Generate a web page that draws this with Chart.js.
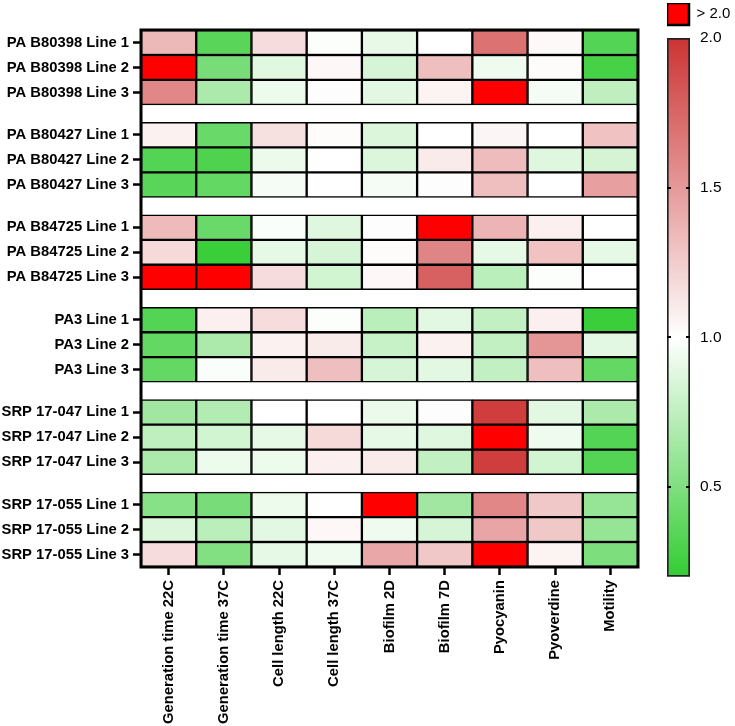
<!DOCTYPE html>
<html>
<head>
<meta charset="utf-8">
<script src="https://cdn.jsdelivr.net/npm/chart.js@4.4.0/dist/chart.umd.min.js"></script>
<style>
  html, body { margin: 0; padding: 0; background: #fff; }
  #wrap { position: relative; width: 735px; height: 726px; }
  #main { position: absolute; left: 0; top: 0; width: 735px; height: 726px; }
  #bar { position: absolute; left: 650px; top: 0; width: 85px; height: 596px; }
</style>
</head>
<body>
<div id="wrap">
  <div id="main"><canvas id="heat"></canvas></div>
  <div id="bar"><canvas id="scale"></canvas></div>
</div>
<script>
'use strict';

// columns of the heatmap
const columns = ['Generation time 22C', 'Generation time 37C', 'Cell length 22C', 'Cell length 37C',
  'Biofilm 2D', 'Biofilm 7D', 'Pyocyanin', 'Pyoverdine', 'Motility'];
const strains = ['PA B80398', 'PA B80427', 'PA B84725', 'PA3', 'SRP 17-047', 'SRP 17-055'];
const lines = ['Line 1', 'Line 2', 'Line 3'];

// fold change per line, one row per line, in column order (values above 2.0 show as bright red)
const paB80398 = [
  [1.35, 0.35, 1.17, 0.99, 0.91, 1.00, 1.69, 1.03, 0.33],
  [2.20, 0.47, 0.88, 1.04, 0.84, 1.32, 0.94, 1.02, 0.28],
  [1.59, 0.67, 0.93, 1.01, 0.89, 1.06, 2.20, 0.96, 0.75]
];
const paB80427 = [
  [1.07, 0.41, 1.15, 1.02, 0.86, 1.00, 1.05, 1.00, 1.30],
  [0.33, 0.31, 0.92, 1.00, 0.86, 1.10, 1.33, 0.87, 0.83],
  [0.35, 0.39, 0.96, 1.00, 0.96, 1.01, 1.32, 1.00, 1.47]
];
const paB84725 = [
  [1.34, 0.41, 0.98, 0.87, 1.01, 2.20, 1.37, 1.08, 1.00],
  [1.18, 0.23, 0.90, 0.84, 1.02, 1.60, 0.90, 1.30, 0.90],
  [2.20, 2.20, 1.17, 0.82, 1.04, 1.78, 0.73, 0.99, 1.00]
];
const pa3 = [
  [0.33, 1.08, 1.17, 0.99, 0.73, 0.89, 0.76, 1.08, 0.23],
  [0.39, 0.67, 1.07, 1.10, 0.78, 1.07, 0.76, 1.52, 0.89],
  [0.39, 0.98, 1.10, 1.32, 0.84, 0.89, 0.76, 1.32, 0.39]
];
const srp17047 = [
  [0.63, 0.70, 1.00, 1.00, 0.92, 1.01, 1.95, 0.89, 0.67],
  [0.75, 0.82, 0.90, 1.18, 0.90, 0.87, 2.20, 0.94, 0.33],
  [0.67, 0.93, 0.93, 1.08, 1.10, 0.76, 1.95, 0.82, 0.33]
];
const srp17055 = [
  [0.53, 0.47, 0.93, 1.00, 2.20, 0.63, 1.59, 1.27, 0.59],
  [0.86, 0.73, 0.89, 1.04, 0.94, 0.84, 1.44, 1.27, 0.59],
  [1.17, 0.51, 0.90, 0.94, 1.43, 1.27, 2.20, 1.06, 0.49]
];
const strainValues = [paB80398, paB80427, paB84725, pa3, srp17047, srp17055];

// colour scale
const scaleMin = 0.2, scaleMid = 1.0, scaleMax = 2.0;
const scaleTicks = [0.5, 1.0, 1.5, 2.0];
const lowColor = [51, 204, 51];
const highColor = [204, 51, 51];
const overColor = '#ff0000';
const groupGap = 0.7;   // blank space between strains, in row heights

const font = '"Liberation Sans", Arial, Helvetica, sans-serif';
Chart.defaults.font.family = font;
Chart.defaults.color = '#000';

function mix(c, t){
  const m = c.map(v => Math.round(255 + (v - 255) * t));
  return 'rgb(' + m.join(',') + ')';
}
function cellColor(v){
  if (v > scaleMax) return overColor;
  if (v >= scaleMid) return mix(highColor, (v - scaleMid) / (scaleMax - scaleMid));
  return mix(lowColor, Math.min(1, (scaleMid - v) / (scaleMid - scaleMin)));
}

// one entry per heatmap row
const rows = [];
strainValues.forEach((group, g) => {
  group.forEach((vals, i) => {
    rows.push({ label: strains[g] + ' ' + lines[i], top: g * (3 + groupGap) + i, values: vals });
  });
});
const yMax = strains.length * 3 + (strains.length - 1) * groupGap;

// thick frame round the plot area
const frame = {
  id: 'frame',
  afterDatasetsDraw(chart){
    const {ctx, chartArea: a} = chart;
    ctx.save();
    ctx.lineWidth = 3;
    ctx.strokeStyle = '#000';
    ctx.strokeRect(a.left, a.top, a.right - a.left, a.bottom - a.top);
    ctx.restore();
  }
};

new Chart(document.getElementById('heat'), {
  type: 'bar',
  data: {
    labels: columns,
    datasets: rows.map(r => ({
      label: r.label,
      data: r.values.map(() => [r.top, r.top + 1]),
      backgroundColor: r.values.map(cellColor),
      borderColor: '#000',
      borderWidth: 1.5,
      borderSkipped: false,
      grouped: false,
      categoryPercentage: 1,
      barPercentage: 1
    }))
  },
  options: {
    responsive: true,
    maintainAspectRatio: false,
    animation: false,
    layout: { padding: { top: 30, right: 97, left: 0, bottom: 0 } },
    plugins: { legend: { display: false }, tooltip: { enabled: false } },
    scales: {
      x: {
        offset: true,
        grid: { offset: false, drawOnChartArea: false, tickLength: 8, tickWidth: 2.5, tickColor: '#000' },
        border: { display: false },
        ticks: { minRotation: 90, maxRotation: 90, padding: 5, autoSkip: false,
          font: { size: 14.8, weight: 'bold' } },
        afterFit(s){ s.height = 159; }
      },
      y: {
        type: 'linear',
        reverse: true,
        min: 0,
        max: yMax,
        afterBuildTicks(s){ s.ticks = rows.map(r => ({ value: r.top + 0.5 })); },
        grid: { drawOnChartArea: false, tickLength: 8, tickWidth: 2.5, tickColor: '#000' },
        border: { display: false },
        ticks: { autoSkip: false, padding: 4, font: { size: 14.8, weight: 'bold' },
          callback: (v, i) => rows[i] ? rows[i].label : '' },
        afterFit(s){ s.width = 141; }
      }
    }
  },
  plugins: [frame]
});

// small marks on both edges of the colour bar
const barTicks = {
  id: 'barTicks',
  afterDatasetsDraw(chart){
    const {ctx, chartArea: a} = chart;
    const ys = chart.scales.y;
    ctx.save();
    ctx.strokeStyle = '#000';
    ctx.lineWidth = 2;
    scaleTicks.slice(0, -1).forEach(t => {
      const y = Math.round(ys.getPixelForValue(t));
      ctx.beginPath();
      ctx.moveTo(a.left, y); ctx.lineTo(a.left + 4, y);
      ctx.moveTo(a.right - 4, y); ctx.lineTo(a.right, y);
      ctx.stroke();
    });
    ctx.restore();
  }
};

new Chart(document.getElementById('scale'), {
  type: 'bar',
  data: {
    labels: [''],
    datasets: [{
      label: '> 2.0',
      data: [[scaleMin, scaleMax]],
      backgroundColor(c){
        const chart = c.chart;
        if (!chart.chartArea) return null;
        const ys = chart.scales.y;
        const g = chart.ctx.createLinearGradient(0, ys.getPixelForValue(scaleMax), 0, ys.getPixelForValue(scaleMin));
        g.addColorStop(0, mix(highColor, 1));
        g.addColorStop((scaleMax - scaleMid) / (scaleMax - scaleMin), '#fff');
        g.addColorStop(1, mix(lowColor, 1));
        return g;
      },
      borderColor: '#222',
      borderWidth: 2,
      borderSkipped: false,
      categoryPercentage: 1,
      barPercentage: 1
    }]
  },
  options: {
    responsive: true,
    maintainAspectRatio: false,
    animation: false,
    layout: { padding: { top: 3, left: 17, right: 0, bottom: 5 } },
    plugins: {
      tooltip: { enabled: false },
      legend: {
        position: 'top',
        align: 'start',
        labels: {
          boxWidth: 22,
          boxHeight: 22,
          padding: 0,
          font: { size: 15 },
          generateLabels: () => [{ text: '> 2.0', fillStyle: overColor, strokeStyle: '#000', lineWidth: 2.5, hidden: false }]
        },
        onClick: null
      }
    },
    scales: {
      x: {
        position: 'top',
        grid: { display: false },
        border: { display: false },
        ticks: { display: false },
        afterFit(s){ s.height = 3; }
      },
      y: {
        position: 'right',
        min: scaleMin,
        max: scaleMax,
        afterBuildTicks(s){ s.ticks = scaleTicks.map(v => ({ value: v })); },
        grid: { drawOnChartArea: false, drawTicks: false },
        border: { display: false },
        ticks: { padding: 10, font: { size: 15.5 }, callback: v => v.toFixed(1) },
        afterFit(s){ s.width = 45; }
      }
    }
  },
  plugins: [barTicks]
});
</script>
</body>
</html>
